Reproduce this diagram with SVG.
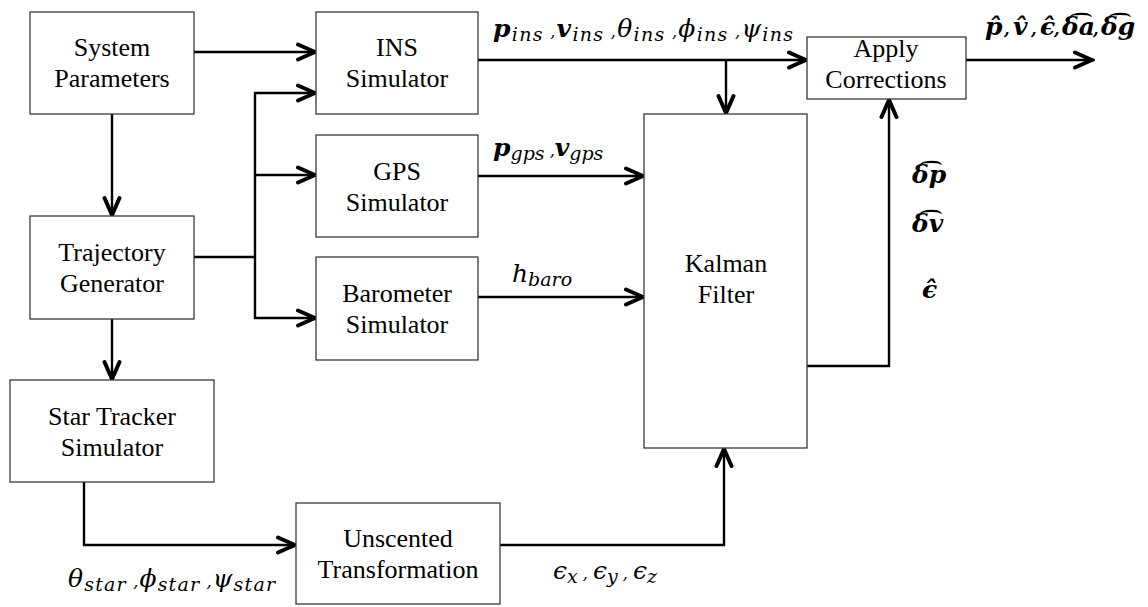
<svg xmlns="http://www.w3.org/2000/svg" width="1148" height="607" viewBox="0 0 1148 607">
<style>
.box{fill:#fff;stroke:#3a3a3a;stroke-width:1.3}
.lbl{font-family:"Liberation Serif","Times New Roman",serif;font-size:26px;fill:#000;text-anchor:middle}
.con{fill:none;stroke:#000;stroke-width:2.4}
.m{font-family:"DejaVu Serif",serif;font-style:italic;font-size:25px;fill:#000}
.mb{font-weight:bold}
.s{font-size:19px}
.c{font-size:16px}
</style>
<defs>
<marker id="ah" markerUnits="userSpaceOnUse" markerWidth="24" markerHeight="20" viewBox="0 0 24 20" refX="22" refY="10" orient="auto">
<path d="M4,2.5 L21,10 L4,17.5" fill="none" stroke="#000" stroke-width="4" stroke-linecap="round"/>
</marker>
</defs>
<g id="connectors">
<path class="con" d="M194,52 H316" marker-end="url(#ah)"/>
<path class="con" d="M112,114 V216" marker-end="url(#ah)"/>
<path class="con" d="M194,257 H255"/>
<path class="con" d="M255,257 V93 H316" marker-end="url(#ah)"/>
<path class="con" d="M255,175 H316" marker-end="url(#ah)"/>
<path class="con" d="M255,257 V318 H316" marker-end="url(#ah)"/>
<path class="con" d="M112,319 V380" marker-end="url(#ah)"/>
<path class="con" d="M478,60 H807" marker-end="url(#ah)"/>
<path class="con" d="M726,60 V114" marker-end="url(#ah)"/>
<path class="con" d="M478,176 H644" marker-end="url(#ah)"/>
<path class="con" d="M478,297 H644" marker-end="url(#ah)"/>
<path class="con" d="M84,482 V545 H296" marker-end="url(#ah)"/>
<path class="con" d="M500,545 H724 V448" marker-end="url(#ah)"/>
<path class="con" d="M807,366 H889 V99" marker-end="url(#ah)"/>
<path class="con" d="M966,60 H1093" marker-end="url(#ah)"/>
</g>
<g id="sysparams"><rect class="box" x="30" y="12" width="164" height="102"/><text class="lbl" x="112" y="56">System</text><text class="lbl" x="112" y="87">Parameters</text></g>
<g id="ins"><rect class="box" x="316" y="12" width="162" height="102"/><text class="lbl" x="397" y="56">INS</text><text class="lbl" x="397" y="87">Simulator</text></g>
<g id="gps"><rect class="box" x="316" y="135" width="162" height="102"/><text class="lbl" x="397" y="180">GPS</text><text class="lbl" x="397" y="211">Simulator</text></g>
<g id="baro"><rect class="box" x="316" y="257" width="162" height="103"/><text class="lbl" x="397" y="302">Barometer</text><text class="lbl" x="397" y="333">Simulator</text></g>
<g id="trajgen"><rect class="box" x="30" y="216" width="164" height="103"/><text class="lbl" x="112" y="261">Trajectory</text><text class="lbl" x="112" y="292">Generator</text></g>
<g id="startracker"><rect class="box" x="10" y="380" width="204" height="102"/><text class="lbl" x="112" y="425">Star Tracker</text><text class="lbl" x="112" y="456">Simulator</text></g>
<g id="unscented"><rect class="box" x="296" y="503" width="204" height="101"/><text class="lbl" x="398" y="547">Unscented</text><text class="lbl" x="398" y="578">Transformation</text></g>
<g id="kalman"><rect class="box" x="644" y="114" width="163" height="334"/><text class="lbl" x="726" y="272">Kalman</text><text class="lbl" x="726" y="303">Filter</text></g>
<g id="apply"><rect class="box" x="807" y="37" width="159" height="62"/><text class="lbl" x="886" y="57">Apply</text><text class="lbl" x="886" y="88">Corrections</text></g>
<g id="labels">
<text class="m" x="493" y="37" textLength="300" lengthAdjust="spacing"><tspan class="mb">p</tspan><tspan class="s" dy="4">ins</tspan><tspan dy="-4" class="c"> ,</tspan><tspan class="mb">v</tspan><tspan class="s" dy="4">ins</tspan><tspan dy="-4" class="c"> ,</tspan><tspan>θ</tspan><tspan class="s" dy="4">ins</tspan><tspan dy="-4" class="c"> ,</tspan><tspan>ϕ</tspan><tspan class="s" dy="4">ins</tspan><tspan dy="-4" class="c"> ,</tspan><tspan>ψ</tspan><tspan class="s" dy="4">ins</tspan></text>
<text class="m" x="493" y="156"><tspan class="mb">p</tspan><tspan class="s" dy="4">gps</tspan><tspan dy="-4" class="c"> ,</tspan><tspan class="mb">v</tspan><tspan class="s" dy="4">gps</tspan></text>
<text class="m" x="512" y="282">h<tspan class="s" dy="4">baro</tspan></text>
<text class="m" x="68" y="587" textLength="207" lengthAdjust="spacing"><tspan>θ</tspan><tspan class="s" dy="4">star</tspan><tspan dy="-4" class="c"> ,</tspan><tspan>ϕ</tspan><tspan class="s" dy="4">star</tspan><tspan dy="-4" class="c"> ,</tspan><tspan>ψ</tspan><tspan class="s" dy="4">star</tspan></text>
<text class="m" x="553" y="579"><tspan>ϵ</tspan><tspan class="s" dy="4">x</tspan><tspan dy="-4" class="c"> , </tspan><tspan>ϵ</tspan><tspan class="s" dy="4">y</tspan><tspan dy="-4" class="c"> , </tspan><tspan>ϵ</tspan><tspan class="s" dy="4">z</tspan></text>
<text class="m mb" y="35"><tspan x="985">p̂</tspan><tspan x="1004" class="c">,</tspan><tspan x="1013">v̂</tspan><tspan x="1031" class="c">,</tspan><tspan x="1040">ϵ̂</tspan><tspan x="1054" class="c">,</tspan><tspan x="1062">δ͡a</tspan><tspan x="1093" class="c">,</tspan><tspan x="1101">δ͡g</tspan></text>
<text class="m mb" x="912" y="183">δ͡p</text>
<text class="m mb" x="912" y="232">δ͡v</text>
<text class="m mb" x="922" y="298">ϵ̂</text>
</g>
</svg>
